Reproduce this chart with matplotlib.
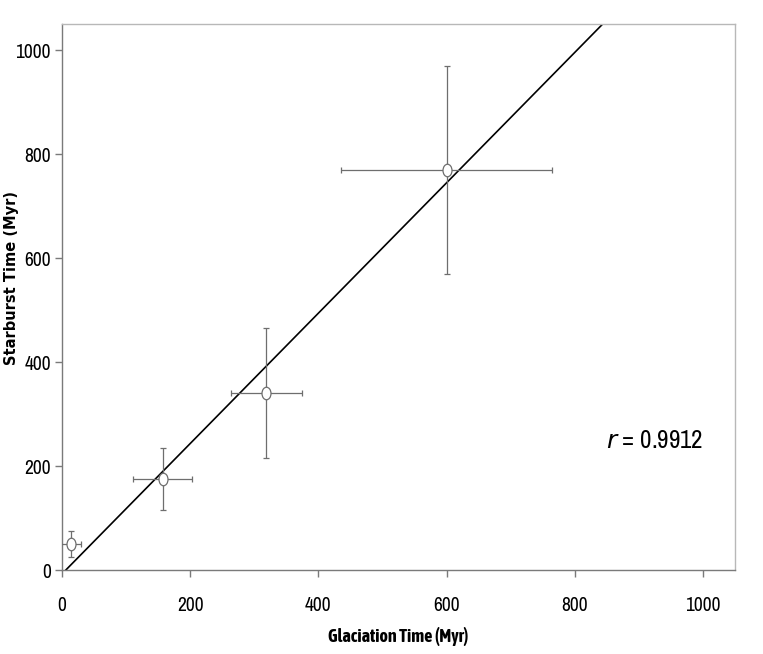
import numpy as np
import matplotlib
matplotlib.use('Agg')
import matplotlib.pyplot as plt
from matplotlib import font_manager
from matplotlib.path import Path

# data
glaciation = [14, 157, 319, 600]
starburst = [50, 175, 340, 770]
glaciation_err = [15, 46, 55, 165]
starburst_err = [25, 60, 125, 200]

# fitted line end points
fit_x = [6, 850]
fit_y = [0, 1058]

r_value = 0.9912

# look for a condensed face (the original uses Arial Narrow)
fonts = font_manager.fontManager.ttflist
narrow_names = sorted({f.name for f in fonts if 'Narrow' in f.name or 'Condensed' in f.name})
narrow_names.sort(key=lambda n: 0 if 'Liberation' in n else 1)
bold_narrow = [n for n in narrow_names
               if any(f.name == n and f.weight in ('bold', 700, 'heavy', 600) for f in fonts)]
NARROW = narrow_names[:1] + ['Liberation Sans', 'DejaVu Sans']
NARROW_BOLD = bold_narrow[:1] + ['Liberation Sans', 'DejaVu Sans']

fig = plt.figure(figsize=(7.63, 6.54), dpi=100)
ax = fig.add_axes([62 / 763, 1 - 570 / 654, (735 - 62) / 763, (570 - 24) / 654])

# slightly tall open circle like the original
circ = Path.unit_circle()
oval = Path(circ.vertices * np.array([0.72, 1.0]), circ.codes)

ax.plot(fit_x, fit_y, color='black', lw=1.2, zorder=2)
ax.errorbar(glaciation, starburst, xerr=glaciation_err, yerr=starburst_err,
            fmt='none', ecolor='#6e6e6e', elinewidth=0.9, capsize=2.5,
            capthick=0.9, zorder=3)
ax.plot(glaciation, starburst, linestyle='none', marker=oval, markersize=9,
        markerfacecolor='white', markeredgecolor='#6e6e6e',
        markeredgewidth=0.9, zorder=4)

ax.set_xlim(0, 1050)
ax.set_ylim(0, 1050)
ax.set_xticks([0, 200, 400, 600, 800, 1000])
ax.set_yticks([0, 200, 400, 600, 800, 1000])

for side in ['left', 'bottom']:
    ax.spines[side].set_color('#7a7a7a')
    ax.spines[side].set_linewidth(1.0)
for side in ['top', 'right']:
    ax.spines[side].set_color('#b8b8b8')
    ax.spines[side].set_linewidth(1.0)

tick_size = 14 if narrow_names else 12
ax.tick_params(axis='both', direction='out', length=5, width=1.0,
               color='#7a7a7a', labelsize=tick_size)
ax.tick_params(axis='x', pad=14)
ax.tick_params(axis='y', pad=3)
for lab in ax.get_xticklabels() + ax.get_yticklabels():
    lab.set_family(NARROW)

xl_size = 13 if bold_narrow else 10
ax.set_xlabel('Glaciation Time (Myr)', fontsize=xl_size, fontweight='bold',
              family=NARROW_BOLD, labelpad=8)
fig.text(12 / 763, 1 - 278 / 654, 'Starburst Time (Myr)', rotation=90,
         fontsize=10.5, fontweight='bold', family=['DejaVu Sans'],
         ha='center', va='center')

ax.text(848, 250, '$\\it{r}$ = ' + f'{r_value:.4f}', fontsize=18 if narrow_names else 14,
        family=NARROW, ha='left', va='center')

fig.savefig('out.png', dpi=100)
